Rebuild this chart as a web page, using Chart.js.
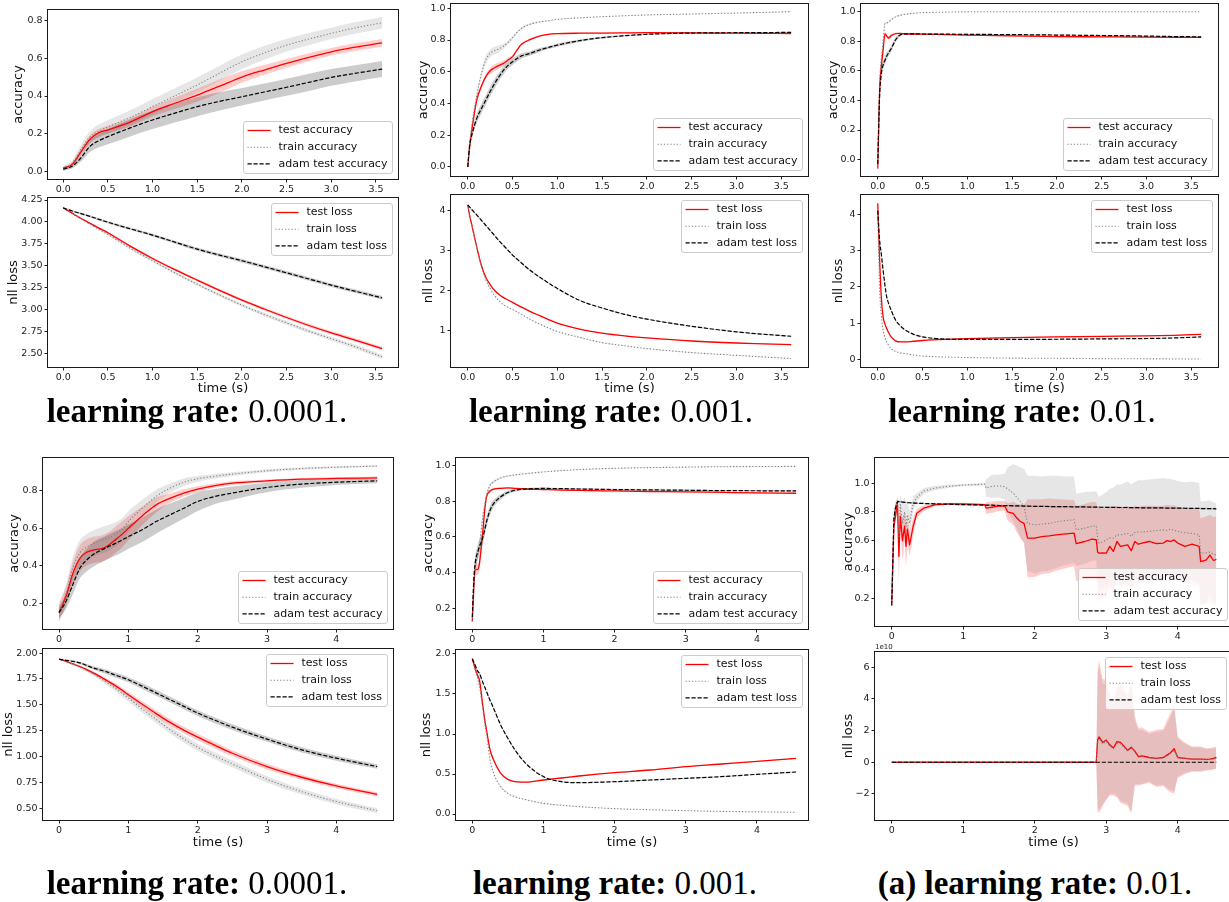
<!DOCTYPE html>
<html>
<head>
<meta charset="utf-8">
<script src="https://cdn.jsdelivr.net/npm/chart.js@4.4.1/dist/chart.umd.min.js"></script>
<style>
  html, body { margin: 0; padding: 0; background: #fff; }
  body { width: 1229px; height: 902px; position: relative; overflow: hidden; }
  canvas { position: absolute; }
  .cap { position: absolute; font-family: "Liberation Serif", serif; font-size: 33px; line-height: 33px; white-space: nowrap; transform: translateX(-50%); color: #000; }
</style>
</head>
<body>
<canvas id="c1"></canvas><canvas id="c2"></canvas>
<canvas id="c3"></canvas><canvas id="c4"></canvas>
<canvas id="c5"></canvas><canvas id="c6"></canvas>
<canvas id="c7"></canvas><canvas id="c8"></canvas>
<canvas id="c9"></canvas><canvas id="c10"></canvas>
<canvas id="c11"></canvas><canvas id="c12"></canvas>

<div class="cap" style="left:197px; top:395px"><b>learning rate:</b> 0.0001.</div>
<div class="cap" style="left:611px; top:395px"><b>learning rate:</b> 0.001.</div>
<div class="cap" style="left:1022px; top:395px"><b>learning rate:</b> 0.01.</div>
<div class="cap" style="left:197px; top:867px"><b>learning rate:</b> 0.0001.</div>
<div class="cap" style="left:615px; top:867px"><b>learning rate:</b> 0.001.</div>
<div class="cap" style="left:1035px; top:867px"><b>(a) learning rate:</b> 0.01.</div>

<script>
// ---- time axes (seconds) ----
const tA = [0, 0.1, 0.2, 0.3, 0.4, 0.5, 0.75, 1.0, 1.25, 1.5, 1.75, 2.0, 2.25, 2.5, 2.75, 3.0, 3.25, 3.57];
const tB = [0, 0.02, 0.05, 0.1, 0.15, 0.2, 0.25, 0.3, 0.35, 0.4, 0.45, 0.5, 0.55, 0.6, 0.7, 0.8, 0.9, 1.0, 1.25, 1.5, 1.75, 2.0, 2.5, 3.0, 3.3, 3.61];
const tC = [0, 0.02, 0.04, 0.06, 0.08, 0.1, 0.12, 0.15, 0.2, 0.25, 0.3, 0.4, 0.5, 0.75, 1.0, 1.5, 2.0, 2.5, 3.0, 3.3, 3.61];
const tD = [0, 0.1, 0.2, 0.3, 0.4, 0.5, 0.6, 0.7, 0.8, 0.9, 1.0, 1.2, 1.4, 1.6, 1.8, 2.0, 2.25, 2.5, 3.0, 3.5, 4.0, 4.59];
const tE = [0, 0.02, 0.04, 0.08, 0.1, 0.15, 0.18, 0.2, 0.25, 0.3, 0.4, 0.5, 0.6, 0.75, 1.0, 1.25, 1.5, 2.0, 2.5, 3.0, 3.5, 4.0, 4.55];
const tF = [0, 0.03, 0.05, 0.08, 0.1, 0.12, 0.15, 0.18, 0.2, 0.22,
  0.25, 0.3, 0.35, 0.45, 0.6, 0.8, 1.0, 1.2, 1.3, 1.32,
  1.4, 1.5, 1.58, 1.62, 1.7, 1.75, 1.8, 1.85, 1.9, 2.0,
  2.1, 2.2, 2.3, 2.4, 2.55, 2.58, 2.7, 2.8, 2.86, 2.88,
  2.9, 2.95, 3.0, 3.05, 3.1, 3.15, 3.2, 3.3, 3.35, 3.4,
  3.45, 3.5, 3.6, 3.7, 3.8, 3.85, 3.9, 3.95, 4.0, 4.1,
  4.2, 4.3, 4.32, 4.4, 4.45, 4.5, 4.54];

// ---- panel A: lr 0.0001 (top) ----
const c1Test = [0.02, 0.04, 0.107, 0.172, 0.207, 0.222, 0.262, 0.318, 0.362, 0.405, 0.452, 0.5, 0.537, 0.572, 0.604, 0.633, 0.656, 0.68];
const c1TestSd = [0.008, 0.01, 0.018, 0.02, 0.02, 0.02, 0.022, 0.025, 0.03, 0.035, 0.035, 0.03, 0.026, 0.023, 0.021, 0.02, 0.02, 0.02];
const c1Train = [0.02, 0.045, 0.12, 0.185, 0.215, 0.237, 0.287, 0.344, 0.401, 0.458, 0.52, 0.58, 0.627, 0.668, 0.7, 0.73, 0.757, 0.786];
const c1TrainSd = [0.008, 0.015, 0.025, 0.03, 0.035, 0.035, 0.038, 0.04, 0.04, 0.04, 0.04, 0.038, 0.036, 0.034, 0.032, 0.03, 0.03, 0.03];
const c1Adam = [0.015, 0.03, 0.075, 0.135, 0.165, 0.186, 0.232, 0.274, 0.31, 0.344, 0.372, 0.396, 0.421, 0.446, 0.472, 0.498, 0.518, 0.542];
const c1AdamSd = [0.008, 0.012, 0.02, 0.03, 0.035, 0.04, 0.045, 0.048, 0.05, 0.05, 0.048, 0.046, 0.045, 0.045, 0.045, 0.044, 0.043, 0.042];

const c2Test = [4.16, 4.1, 4.04, 3.985, 3.93, 3.877, 3.725, 3.584, 3.457, 3.337, 3.22, 3.109, 3.008, 2.911, 2.82, 2.736, 2.66, 2.557];
const c2TestSd = [0.004, 0.006, 0.008, 0.009, 0.01, 0.01, 0.012, 0.013, 0.014, 0.015, 0.015, 0.016, 0.017, 0.018, 0.019, 0.02, 0.02, 0.02];
const c2Train = [4.16, 4.098, 4.035, 3.975, 3.915, 3.858, 3.7, 3.558, 3.42, 3.29, 3.168, 3.052, 2.946, 2.85, 2.756, 2.67, 2.585, 2.462];
const c2TrainSd = [0.004, 0.007, 0.009, 0.01, 0.011, 0.012, 0.014, 0.015, 0.016, 0.017, 0.018, 0.019, 0.02, 0.021, 0.022, 0.023, 0.024, 0.025];
const c2Adam = [4.16, 4.125, 4.095, 4.063, 4.03, 3.997, 3.922, 3.85, 3.77, 3.69, 3.622, 3.558, 3.49, 3.42, 3.35, 3.28, 3.215, 3.135];
const c2AdamSd = [0.004, 0.008, 0.01, 0.012, 0.013, 0.014, 0.015, 0.016, 0.017, 0.018, 0.018, 0.019, 0.02, 0.02, 0.02, 0.02, 0.02, 0.02];

// ---- panel B: lr 0.001 (top) ----
const c3Test = [0.0, 0.12, 0.25, 0.42, 0.505, 0.568, 0.606, 0.625, 0.64, 0.653, 0.674, 0.695, 0.737, 0.773, 0.804, 0.825, 0.836, 0.84, 0.843, 0.844, 0.845, 0.846, 0.845, 0.843, 0.842, 0.841];
const c3TestSd = [0.01, 0.02, 0.02, 0.015, 0.015, 0.015, 0.02, 0.02, 0.02, 0.018, 0.015, 0.01, 0.008, 0.006, 0.005, 0.004, 0.003, 0.003, 0.003, 0.003, 0.003, 0.003, 0.003, 0.003, 0.003, 0.003];
const c3Train = [0.0, 0.14, 0.28, 0.45, 0.58, 0.674, 0.716, 0.733, 0.745, 0.762, 0.785, 0.815, 0.848, 0.874, 0.9, 0.914, 0.922, 0.93, 0.94, 0.947, 0.953, 0.958, 0.964, 0.97, 0.974, 0.979];
const c3TrainSd = [0.01, 0.02, 0.02, 0.02, 0.02, 0.025, 0.025, 0.025, 0.02, 0.015, 0.012, 0.01, 0.008, 0.006, 0.005, 0.004, 0.003, 0.003, 0.002, 0.002, 0.002, 0.002, 0.002, 0.002, 0.002, 0.002];
const c3Adam = [0.0, 0.13, 0.21, 0.305, 0.365, 0.42, 0.475, 0.526, 0.57, 0.61, 0.64, 0.663, 0.683, 0.7, 0.716, 0.737, 0.753, 0.768, 0.796, 0.815, 0.827, 0.836, 0.844, 0.846, 0.847, 0.848];
const c3AdamSd = [0.01, 0.02, 0.025, 0.03, 0.03, 0.03, 0.03, 0.03, 0.025, 0.025, 0.02, 0.02, 0.018, 0.016, 0.014, 0.012, 0.01, 0.01, 0.008, 0.006, 0.005, 0.004, 0.003, 0.003, 0.003, 0.003];

const c4Test = [4.15, 3.9, 3.6, 3.1, 2.65, 2.34, 2.15, 2.0, 1.9, 1.82, 1.76, 1.7, 1.64, 1.58, 1.47, 1.37, 1.27, 1.18, 1.03, 0.93, 0.86, 0.81, 0.73, 0.68, 0.66, 0.64];
const c4TestSd = [0.01, 0.02, 0.02, 0.02, 0.02, 0.015, 0.015, 0.012, 0.012, 0.01, 0.01, 0.01, 0.01, 0.01, 0.008, 0.008, 0.008, 0.008, 0.008, 0.008, 0.008, 0.008, 0.008, 0.008, 0.008, 0.008];
const c4Train = [4.15, 3.9, 3.6, 3.08, 2.62, 2.28, 2.05, 1.87, 1.74, 1.64, 1.58, 1.52, 1.46, 1.4, 1.27, 1.16, 1.06, 0.97, 0.82, 0.69, 0.61, 0.54, 0.44, 0.37, 0.33, 0.29];
const c4TrainSd = [0.01, 0.02, 0.02, 0.02, 0.02, 0.015, 0.015, 0.012, 0.012, 0.01, 0.01, 0.01, 0.01, 0.01, 0.008, 0.008, 0.008, 0.008, 0.008, 0.008, 0.008, 0.008, 0.008, 0.008, 0.008, 0.008];
const c4Adam = [4.15, 4.1, 4.02, 3.9, 3.77, 3.64, 3.51, 3.38, 3.25, 3.13, 3.01, 2.89, 2.79, 2.69, 2.5, 2.34, 2.19, 2.05, 1.75, 1.56, 1.4, 1.28, 1.1, 0.96, 0.9, 0.85];
const c4AdamSd = [0.01, 0.015, 0.02, 0.02, 0.02, 0.02, 0.02, 0.02, 0.02, 0.02, 0.02, 0.02, 0.02, 0.02, 0.02, 0.018, 0.016, 0.015, 0.014, 0.012, 0.012, 0.01, 0.01, 0.01, 0.01, 0.01];

// ---- panel C: lr 0.01 (top) ----
const c5Test = [-0.06, 0.45, 0.63, 0.74, 0.85, 0.835, 0.822, 0.838, 0.852, 0.853, 0.851, 0.849, 0.848, 0.845, 0.842, 0.836, 0.832, 0.83, 0.828, 0.827, 0.826];
const c5TestSd = [0.01, 0.03, 0.03, 0.03, 0.012, 0.012, 0.012, 0.01, 0.006, 0.004, 0.004, 0.003, 0.003, 0.003, 0.003, 0.003, 0.003, 0.003, 0.003, 0.003, 0.003];
const c5Train = [-0.06, 0.5, 0.68, 0.8, 0.92, 0.925, 0.93, 0.945, 0.966, 0.976, 0.982, 0.989, 0.993, 0.997, 0.999, 1.0, 1.0, 1.0, 1.0, 1.0, 1.0];
const c5TrainSd = [0.01, 0.03, 0.03, 0.03, 0.01, 0.008, 0.006, 0.005, 0.004, 0.003, 0.002, 0.002, 0.001, 0.001, 0.001, 0.001, 0.001, 0.001, 0.001, 0.001, 0.001];
const c5Adam = [-0.03, 0.42, 0.58, 0.64, 0.67, 0.7, 0.72, 0.75, 0.81, 0.842, 0.849, 0.85, 0.849, 0.848, 0.847, 0.845, 0.842, 0.839, 0.835, 0.832, 0.83];
const c5AdamSd = [0.01, 0.03, 0.03, 0.025, 0.025, 0.025, 0.02, 0.02, 0.015, 0.008, 0.005, 0.004, 0.003, 0.003, 0.003, 0.003, 0.003, 0.003, 0.003, 0.003, 0.003];

const c6Test = [4.3, 2.8, 1.7, 1.17, 0.98, 0.85, 0.74, 0.62, 0.51, 0.48, 0.48, 0.5, 0.52, 0.55, 0.57, 0.6, 0.62, 0.635, 0.645, 0.66, 0.69];
const c6TestSd = [0.05, 0.1, 0.08, 0.05, 0.03, 0.02, 0.02, 0.015, 0.01, 0.01, 0.01, 0.01, 0.01, 0.01, 0.01, 0.01, 0.01, 0.01, 0.01, 0.01, 0.01];
const c6Train = [4.1, 2.0, 1.2, 0.8, 0.6, 0.48, 0.4, 0.29, 0.22, 0.18, 0.16, 0.12, 0.09, 0.065, 0.05, 0.035, 0.03, 0.02, 0.015, 0.012, 0.01];
const c6TrainSd = [0.05, 0.1, 0.06, 0.04, 0.03, 0.02, 0.015, 0.01, 0.008, 0.006, 0.005, 0.004, 0.003, 0.002, 0.002, 0.002, 0.002, 0.002, 0.002, 0.002, 0.002];
const c6Adam = [4.1, 3.3, 2.9, 2.45, 2.05, 1.72, 1.55, 1.35, 1.08, 0.93, 0.82, 0.69, 0.62, 0.56, 0.55, 0.55, 0.555, 0.565, 0.575, 0.59, 0.62];
const c6AdamSd = [0.05, 0.08, 0.08, 0.06, 0.05, 0.04, 0.03, 0.03, 0.02, 0.015, 0.012, 0.01, 0.008, 0.008, 0.008, 0.008, 0.008, 0.008, 0.008, 0.008, 0.008];

// ---- panel D: lr 0.0001 (bottom) ----
const c7Test = [0.152, 0.236, 0.36, 0.44, 0.472, 0.485, 0.49, 0.506, 0.535, 0.565, 0.6, 0.666, 0.725, 0.76, 0.788, 0.809, 0.828, 0.841, 0.853, 0.862, 0.866, 0.869];
const c7TestSd = [0.05, 0.05, 0.06, 0.07, 0.07, 0.07, 0.07, 0.07, 0.07, 0.07, 0.065, 0.05, 0.04, 0.025, 0.02, 0.015, 0.012, 0.01, 0.008, 0.007, 0.007, 0.007];
const c7Train = [0.15, 0.25, 0.39, 0.467, 0.5, 0.52, 0.535, 0.547, 0.565, 0.59, 0.636, 0.707, 0.77, 0.814, 0.846, 0.864, 0.878, 0.889, 0.907, 0.919, 0.926, 0.932];
const c7TrainSd = [0.04, 0.05, 0.06, 0.07, 0.07, 0.07, 0.07, 0.07, 0.065, 0.06, 0.055, 0.045, 0.035, 0.025, 0.02, 0.015, 0.012, 0.01, 0.008, 0.006, 0.005, 0.005];
const c7Adam = [0.15, 0.21, 0.3, 0.387, 0.431, 0.462, 0.482, 0.5, 0.517, 0.535, 0.556, 0.592, 0.636, 0.672, 0.707, 0.743, 0.77, 0.788, 0.818, 0.836, 0.846, 0.853];
const c7AdamSd = [0.03, 0.04, 0.05, 0.055, 0.06, 0.065, 0.065, 0.065, 0.065, 0.065, 0.065, 0.065, 0.065, 0.06, 0.055, 0.05, 0.04, 0.035, 0.025, 0.02, 0.015, 0.012];

const c8Test = [1.94, 1.92, 1.895, 1.87, 1.84, 1.806, 1.77, 1.73, 1.69, 1.645, 1.597, 1.505, 1.415, 1.33, 1.255, 1.187, 1.108, 1.032, 0.903, 0.8, 0.716, 0.635];
const c8TestSd = [0.005, 0.006, 0.008, 0.01, 0.012, 0.015, 0.018, 0.02, 0.022, 0.025, 0.027, 0.03, 0.032, 0.033, 0.033, 0.033, 0.032, 0.03, 0.028, 0.025, 0.022, 0.02];
const c8Train = [1.94, 1.92, 1.893, 1.866, 1.833, 1.797, 1.755, 1.71, 1.665, 1.615, 1.565, 1.46, 1.36, 1.26, 1.17, 1.09, 1.005, 0.929, 0.78, 0.661, 0.565, 0.477];
const c8TrainSd = [0.005, 0.008, 0.01, 0.013, 0.016, 0.02, 0.023, 0.026, 0.028, 0.03, 0.032, 0.034, 0.035, 0.035, 0.035, 0.034, 0.033, 0.032, 0.03, 0.028, 0.026, 0.025];
const c8Adam = [1.94, 1.93, 1.92, 1.905, 1.88, 1.855, 1.835, 1.815, 1.79, 1.767, 1.742, 1.68, 1.615, 1.55, 1.485, 1.42, 1.35, 1.284, 1.168, 1.065, 0.984, 0.903];
const c8AdamSd = [0.005, 0.008, 0.01, 0.012, 0.015, 0.017, 0.02, 0.022, 0.023, 0.025, 0.025, 0.027, 0.028, 0.028, 0.028, 0.028, 0.028, 0.027, 0.026, 0.025, 0.024, 0.022];

// ---- panel E: lr 0.001 (bottom) ----
const c9Test = [0.125, 0.3, 0.415, 0.418, 0.45, 0.64, 0.77, 0.825, 0.858, 0.868, 0.873, 0.875, 0.872, 0.869, 0.866, 0.863, 0.861, 0.858, 0.855, 0.853, 0.85, 0.847, 0.845];
const c9TestSd = [0.01, 0.03, 0.03, 0.03, 0.03, 0.03, 0.02, 0.015, 0.008, 0.006, 0.005, 0.004, 0.004, 0.003, 0.003, 0.003, 0.003, 0.003, 0.003, 0.003, 0.003, 0.003, 0.003];
const c9Train = [0.125, 0.3, 0.42, 0.5, 0.55, 0.72, 0.79, 0.834, 0.89, 0.909, 0.931, 0.942, 0.948, 0.955, 0.965, 0.972, 0.978, 0.985, 0.989, 0.992, 0.994, 0.995, 0.996];
const c9TrainSd = [0.01, 0.03, 0.03, 0.03, 0.03, 0.03, 0.02, 0.015, 0.01, 0.008, 0.005, 0.004, 0.003, 0.003, 0.002, 0.002, 0.002, 0.002, 0.002, 0.002, 0.002, 0.002, 0.002];
const c9Adam = [0.15, 0.35, 0.45, 0.52, 0.545, 0.6, 0.65, 0.685, 0.75, 0.787, 0.825, 0.849, 0.862, 0.869, 0.872, 0.871, 0.869, 0.866, 0.864, 0.862, 0.86, 0.859, 0.858];
const c9AdamSd = [0.02, 0.04, 0.04, 0.04, 0.04, 0.035, 0.035, 0.03, 0.025, 0.02, 0.015, 0.01, 0.008, 0.006, 0.005, 0.004, 0.004, 0.004, 0.004, 0.004, 0.004, 0.004, 0.004];

const c10Test = [1.94, 1.88, 1.82, 1.72, 1.675, 1.34, 1.15, 1.05, 0.8, 0.675, 0.508, 0.433, 0.404, 0.398, 0.425, 0.45, 0.475, 0.517, 0.55, 0.592, 0.625, 0.658, 0.696];
const c10TestSd = [0.005, 0.01, 0.015, 0.02, 0.02, 0.02, 0.02, 0.02, 0.015, 0.012, 0.01, 0.008, 0.006, 0.005, 0.005, 0.005, 0.005, 0.005, 0.005, 0.005, 0.005, 0.005, 0.005];
const c10Train = [1.94, 1.88, 1.8, 1.68, 1.6, 1.3, 1.1, 1.0, 0.675, 0.508, 0.342, 0.258, 0.215, 0.18, 0.133, 0.11, 0.092, 0.067, 0.053, 0.042, 0.033, 0.027, 0.021];
const c10TrainSd = [0.005, 0.01, 0.015, 0.02, 0.02, 0.02, 0.02, 0.02, 0.015, 0.012, 0.01, 0.008, 0.006, 0.005, 0.004, 0.003, 0.003, 0.003, 0.003, 0.003, 0.003, 0.003, 0.003];
const c10Adam = [1.94, 1.9, 1.86, 1.78, 1.758, 1.64, 1.575, 1.53, 1.42, 1.32, 1.11, 0.946, 0.8, 0.633, 0.467, 0.404, 0.392, 0.404, 0.425, 0.446, 0.467, 0.496, 0.525];
const c10AdamSd = [0.005, 0.01, 0.012, 0.015, 0.015, 0.015, 0.015, 0.015, 0.015, 0.015, 0.012, 0.01, 0.01, 0.008, 0.006, 0.005, 0.005, 0.005, 0.005, 0.005, 0.005, 0.005, 0.005];

// ---- panel F: lr 0.01 (bottom) ----
const c11Test = [0.165, 0.70, 0.76, 0.86, 0.49, 0.77, 0.60, 0.70, 0.56, 0.68,
  0.57, 0.70, 0.79, 0.826, 0.848, 0.855, 0.855, 0.852, 0.85, 0.826,
  0.832, 0.84, 0.842, 0.80, 0.79, 0.757, 0.733, 0.72, 0.617, 0.617,
  0.628, 0.633, 0.64, 0.645, 0.652, 0.58, 0.594, 0.61, 0.606, 0.52,
  0.513, 0.515, 0.513, 0.56, 0.525, 0.594, 0.56, 0.571, 0.53, 0.594,
  0.575, 0.583, 0.594, 0.58, 0.583, 0.60, 0.594, 0.605, 0.583, 0.56,
  0.575, 0.56, 0.455, 0.467, 0.50, 0.462, 0.47];
const c11TestSd = [0.03, 0.05, 0.05, 0.03, 0.2, 0.06, 0.15, 0.1, 0.15, 0.1,
  0.08, 0.06, 0.03, 0.02, 0.01, 0.008, 0.008, 0.008, 0.008, 0.04,
  0.04, 0.035, 0.035, 0.06, 0.08, 0.1, 0.12, 0.13, 0.27, 0.27,
  0.26, 0.26, 0.25, 0.24, 0.23, 0.26, 0.26, 0.26, 0.26, 0.3,
  0.32, 0.31, 0.31, 0.28, 0.3, 0.25, 0.27, 0.27, 0.29, 0.25,
  0.26, 0.26, 0.25, 0.26, 0.26, 0.25, 0.25, 0.24, 0.25, 0.26,
  0.25, 0.26, 0.3, 0.3, 0.28, 0.3, 0.3];
const c11Train = [0.15, 0.75, 0.82, 0.88, 0.62, 0.85, 0.72, 0.80, 0.70, 0.78,
  0.72, 0.86, 0.90, 0.945, 0.965, 0.978, 0.986, 0.99, 0.993, 0.965,
  0.977, 0.98, 0.975, 0.96, 0.93, 0.90, 0.87, 0.838, 0.72, 0.71,
  0.715, 0.72, 0.73, 0.738, 0.745, 0.675, 0.687, 0.70, 0.703, 0.62,
  0.583, 0.59, 0.606, 0.62, 0.617, 0.64, 0.64, 0.65, 0.63, 0.657,
  0.66, 0.66, 0.664, 0.67, 0.675, 0.67, 0.68, 0.672, 0.664, 0.655,
  0.65, 0.64, 0.513, 0.515, 0.52, 0.505, 0.50];
const c11TrainSd = [0.03, 0.05, 0.05, 0.03, 0.2, 0.06, 0.15, 0.1, 0.15, 0.1,
  0.08, 0.05, 0.03, 0.02, 0.015, 0.01, 0.008, 0.008, 0.008, 0.06,
  0.08, 0.08, 0.09, 0.15, 0.2, 0.22, 0.24, 0.26, 0.33, 0.34,
  0.33, 0.33, 0.32, 0.31, 0.3, 0.25, 0.25, 0.24, 0.24, 0.3,
  0.32, 0.33, 0.33, 0.34, 0.35, 0.35, 0.35, 0.36, 0.36, 0.35,
  0.36, 0.36, 0.36, 0.36, 0.36, 0.36, 0.35, 0.35, 0.35, 0.35,
  0.36, 0.36, 0.36, 0.36, 0.36, 0.36, 0.36];
const c11Adam = [0.15, 0.75, 0.82, 0.87, 0.872, 0.87, 0.868, 0.866, 0.865, 0.864,
  0.863, 0.861, 0.86, 0.858, 0.856, 0.853, 0.85, 0.848, 0.847, 0.847,
  0.846, 0.844, 0.843, 0.843, 0.842, 0.841, 0.841, 0.84, 0.84, 0.838,
  0.838, 0.837, 0.836, 0.836, 0.835, 0.835, 0.834, 0.833, 0.833, 0.833,
  0.832, 0.832, 0.831, 0.831, 0.831, 0.83, 0.83, 0.83, 0.829, 0.829,
  0.829, 0.828, 0.828, 0.827, 0.827, 0.826, 0.826, 0.826, 0.826, 0.825,
  0.824, 0.824, 0.823, 0.823, 0.822, 0.822, 0.821];
const c11AdamSd = [0.03, 0.05, 0.03, 0.01, 0.008, 0.006, 0.005, 0.005, 0.005, 0.005,
  0.005, 0.005, 0.005, 0.005, 0.005, 0.005, 0.005, 0.005, 0.005, 0.005,
  0.005, 0.005, 0.005, 0.005, 0.005, 0.005, 0.005, 0.005, 0.005, 0.005,
  0.005, 0.005, 0.005, 0.005, 0.005, 0.005, 0.005, 0.005, 0.005, 0.005,
  0.005, 0.005, 0.005, 0.005, 0.005, 0.005, 0.005, 0.005, 0.005, 0.005,
  0.005, 0.005, 0.005, 0.005, 0.005, 0.005, 0.005, 0.005, 0.005, 0.005,
  0.005, 0.005, 0.005, 0.005, 0.005, 0.005, 0.005];

// nll loss in units of 1e10
const c12Test = [0, 0, 0, 0, 0, 0, 0, 0, 0, 0,
  0, 0, 0, 0, 0, 0, 0, 0, 0, 0,
  0, 0, 0, 0, 0, 0, 0, 0, 0, 0,
  0, 0, 0, 0, 0, 0, 0, 0, 0, 1.4,
  1.6, 1.25, 1.4, 1.1, 0.9, 1.3, 1.25, 0.75, 0.95, 0.7,
  0.35, 0.4, 0.3, 0.25, 0.3, 0.45, 0.6, 0.85, 0.3, 0.25,
  0.2, 0.2, 0.2, 0.18, 0.2, 0.25, 0.3];
const c12TestSd = [0, 0, 0, 0, 0, 0, 0, 0, 0, 0,
  0, 0, 0, 0, 0, 0, 0, 0, 0, 0,
  0, 0, 0, 0, 0, 0, 0, 0, 0, 0,
  0, 0, 0, 0, 0, 0, 0, 0, 0, 4.5,
  4.8, 4.0, 3.8, 3.2, 3.0, 3.5, 3.8, 3.5, 4.2, 2.2,
  1.8, 1.8, 1.6, 1.8, 1.8, 2.2, 2.5, 2.8, 1.3, 1.0,
  0.8, 0.8, 0.8, 0.7, 0.7, 0.7, 0.7];
const c12Train = [0, 0, 0, 0, 0, 0, 0, 0, 0, 0,
  0, 0, 0, 0, 0, 0, 0, 0, 0, 0,
  0, 0, 0, 0, 0, 0, 0, 0, 0, 0,
  0, 0, 0, 0, 0, 0, 0, 0, 0, 1.3,
  1.5, 1.15, 1.3, 1.0, 0.85, 1.2, 1.15, 0.7, 0.9, 0.65,
  0.3, 0.35, 0.28, 0.22, 0.28, 0.4, 0.55, 0.75, 0.3, 0.25,
  0.2, 0.18, 0.18, 0.16, 0.18, 0.2, 0.25];
const c12TrainSd = [0, 0, 0, 0, 0, 0, 0, 0, 0, 0,
  0, 0, 0, 0, 0, 0, 0, 0, 0, 0,
  0, 0, 0, 0, 0, 0, 0, 0, 0, 0,
  0, 0, 0, 0, 0, 0, 0, 0, 0, 4.2,
  4.5, 3.8, 3.6, 3.0, 2.8, 3.3, 3.6, 3.3, 4.0, 2.0,
  1.7, 1.7, 1.5, 1.7, 1.7, 2.0, 2.3, 2.6, 1.2, 0.9,
  0.75, 0.75, 0.75, 0.65, 0.65, 0.65, 0.65];
const c12Adam = [0, 0, 0, 0, 0, 0, 0, 0, 0, 0,
  0, 0, 0, 0, 0, 0, 0, 0, 0, 0,
  0, 0, 0, 0, 0, 0, 0, 0, 0, 0,
  0, 0, 0, 0, 0, 0, 0, 0, 0, 0,
  0, 0, 0, 0, 0, 0, 0, 0, 0, 0,
  0, 0, 0, 0, 0, 0, 0, 0, 0, 0,
  0, 0, 0, 0, 0, 0, 0];
const c12AdamSd = c12Adam;

// ---- tick values ----
const topTimeTicks = [0, 0.5, 1, 1.5, 2, 2.5, 3, 3.5];
const bottomTimeTicks = [0, 1, 2, 3, 4];
const accTicks1 = [0, 0.2, 0.4, 0.6, 0.8];
const accTicks2 = [0, 0.2, 0.4, 0.6, 0.8, 1.0];
const accTicks3 = [0.2, 0.4, 0.6, 0.8];
const accTicks4 = [0.2, 0.4, 0.6, 0.8, 1.0];
const lossTicks1 = [2.5, 2.75, 3, 3.25, 3.5, 3.75, 4, 4.25];
const lossTicks2 = [1, 2, 3, 4];
const lossTicks3 = [0, 1, 2, 3, 4];
const lossTicks4 = [0.5, 0.75, 1, 1.25, 1.5, 1.75, 2];
const lossTicks5 = [0, 0.5, 1, 1.5, 2];
const lossTicks6 = [-2, 0, 2, 4, 6];

const TEST = { line: '#ff0000', band: 'rgba(255,0,0,0.2)', width: 1.3, dash: [] };
const TRAIN = { line: '#808080', band: 'rgba(128,128,128,0.2)', width: 1.1, dash: [1.2, 2] };
const ADAM = { line: '#000000', band: 'rgba(0,0,0,0.2)', width: 1.2, dash: [4.2, 1.8] };

Chart.defaults.font.family = '"DejaVu Sans", sans-serif';
Chart.defaults.color = '#111';

function buildSets(t, list, smooth) {
  const sets = [];
  list.forEach(function (s, k) {
    sets.push({ data: t.map(function (x, i) { return { x: x, y: s.mean[i] - s.sd[i] }; }),
      borderColor: 'rgba(0,0,0,0)', borderWidth: 0, pointRadius: 0, fill: false, order: 12 - k });
    sets.push({ data: t.map(function (x, i) { return { x: x, y: s.mean[i] + s.sd[i] }; }),
      borderColor: 'rgba(0,0,0,0)', borderWidth: 0, pointRadius: 0, fill: '-1',
      backgroundColor: s.style.band, order: 12 - k });
  });
  list.forEach(function (s, k) {
    sets.push({ legendLabel: s.label, data: t.map(function (x, i) { return { x: x, y: s.mean[i] }; }),
      borderColor: s.style.line, borderWidth: s.style.width, borderDash: s.style.dash,
      borderJoinStyle: 'round', pointRadius: 0, fill: false, order: 3 - k });
  });
  sets.forEach(function (d) {
    if (smooth) { d.cubicInterpolationMode = 'monotone'; } else { d.tension = 0; }
  });
  return sets;
}

function fmt(v, dec) {
  return v.toFixed(dec).replace('-', '\u2212');
}

const frame = {
  id: 'frame',
  afterDatasetsDraw(chart) {
    const ctx = chart.ctx, a = chart.chartArea;
    ctx.save();
    ctx.strokeStyle = '#1a1a1a';
    ctx.lineWidth = 1;
    ctx.strokeRect(Math.round(a.left) - 0.5, Math.round(a.top) - 0.5,
      Math.round(a.right - a.left) + 1, Math.round(a.bottom - a.top) + 1);
    ctx.restore();
  }
};

const legendBox = {
  id: 'legendBox',
  afterDraw(chart, args, opts) {
    const ctx = chart.ctx, a = chart.chartArea;
    const items = chart.data.datasets.filter(function (d) { return d.legendLabel; });
    ctx.save();
    ctx.font = '11px "DejaVu Sans"';
    let tw = 0;
    items.forEach(function (d) { tw = Math.max(tw, ctx.measureText(d.legendLabel).width); });
    const w = Math.round(35 + tw + 5), h = 52;
    const x = Math.round(a.right - 6 - w) + 0.5;
    const y = (opts.corner === 'upper' ? Math.round(a.top + 5) : Math.round(a.bottom - 6 - h)) + 0.5;
    ctx.beginPath();
    ctx.roundRect(x, y, w, h, 2.5);
    ctx.fillStyle = 'rgba(255,255,255,0.8)';
    ctx.fill();
    ctx.strokeStyle = '#cccccc';
    ctx.lineWidth = 1;
    ctx.stroke();
    items.forEach(function (d, i) {
      const cy = y + 9 + i * 16.7;
      ctx.beginPath();
      ctx.setLineDash(d.borderDash || []);
      ctx.strokeStyle = d.borderColor;
      ctx.lineWidth = d.borderWidth;
      ctx.moveTo(x + 4, cy);
      ctx.lineTo(x + 27, cy);
      ctx.stroke();
      ctx.setLineDash([]);
      ctx.fillStyle = '#111';
      ctx.textBaseline = 'middle';
      ctx.fillText(d.legendLabel, x + 35, cy);
    });
    ctx.restore();
  }
};

const offsetText = {
  id: 'offsetText',
  afterDraw(chart, args, opts) {
    if (!opts.text) return;
    const ctx = chart.ctx, a = chart.chartArea;
    ctx.save();
    ctx.font = '7px "DejaVu Sans"';
    ctx.fillStyle = '#222';
    ctx.textBaseline = 'bottom';
    ctx.fillText(opts.text, a.left, a.top - 1);
    ctx.restore();
  }
};

function drawChart(id, cfg) {
  const canvas = document.getElementById(id);
  const L = cfg.area[0], T = cfg.area[1], R = cfg.area[2], B = cfg.area[3];
  const left = cfg.col, top = T - 8;
  const right = R + 3;
  const bottom = B + cfg.xh;
  canvas.style.left = left + 'px';
  canvas.style.top = top + 'px';
  canvas.width = right - left;
  canvas.height = bottom - top;
  const tickGrid = { display: true, drawOnChartArea: false, drawTicks: true, tickLength: 3.5, color: '#222', lineWidth: 1 };
  new Chart(canvas, {
    type: 'line',
    data: { datasets: cfg.sets },
    options: {
      responsive: false,
      animation: false,
      devicePixelRatio: 1,
      layout: { padding: { top: 8, right: right - R, left: 0, bottom: 0 } },
      plugins: {
        legend: { display: false },
        tooltip: { enabled: false },
        legendBox: { corner: cfg.corner },
        offsetText: { text: cfg.offset || '' }
      },
      scales: {
        x: {
          type: 'linear', min: cfg.xr[0], max: cfg.xr[1],
          afterBuildTicks: function (s) { s.ticks = cfg.xt.map(function (v) { return { value: v }; }); },
          afterFit: function (s) { s.height = cfg.xh; },
          grid: tickGrid,
          border: { display: false },
          ticks: { font: { size: 9.5 }, color: '#222', padding: 1, maxRotation: 0,
            callback: function (v) { return fmt(v, cfg.xd); } },
          title: cfg.xlabel ? { display: true, text: cfg.xlabel, color: '#111', font: { size: 13 }, padding: { top: 0, bottom: 2 } } : { display: false }
        },
        y: {
          type: 'linear', min: cfg.yr[0], max: cfg.yr[1],
          afterBuildTicks: function (s) { s.ticks = cfg.yt.map(function (v) { return { value: v }; }); },
          afterFit: function (s) { s.width = L - left; },
          grid: tickGrid,
          border: { display: false },
          ticks: { font: { size: 9.5 }, color: '#222', padding: 2,
            callback: function (v) { return fmt(v, cfg.yd); } },
          title: { display: true, text: cfg.ylabel, color: '#111', font: { size: 13 }, padding: { top: cfg.yp, bottom: 0 } }
        }
      }
    },
    plugins: [frame, legendBox, offsetText]
  });
}

function accSeries(test, testSd, train, trainSd, adam, adamSd) {
  return [
    { label: 'test accuracy', mean: test, sd: testSd, style: TEST },
    { label: 'train accuracy', mean: train, sd: trainSd, style: TRAIN },
    { label: 'adam test accuracy', mean: adam, sd: adamSd, style: ADAM }
  ];
}
function lossSeries(test, testSd, train, trainSd, adam, adamSd) {
  return [
    { label: 'test loss', mean: test, sd: testSd, style: TEST },
    { label: 'train loss', mean: train, sd: trainSd, style: TRAIN },
    { label: 'adam test loss', mean: adam, sd: adamSd, style: ADAM }
  ];
}

// top row
drawChart('c1', { col: 0, area: [48, 10, 398, 179], xh: 14, xr: [-0.17, 3.747], yr: [-0.037, 0.853],
  xt: topTimeTicks, yt: accTicks1, xd: 1, yd: 1, ylabel: 'accuracy', yp: 11, corner: 'lower',
  sets: buildSets(tA, accSeries(c1Test, c1TestSd, c1Train, c1TrainSd, c1Adam, c1AdamSd), true) });
drawChart('c2', { col: 0, area: [48, 198, 398, 367], xh: 31, xr: [-0.17, 3.747], yr: [2.347, 4.273],
  xt: topTimeTicks, yt: lossTicks1, xd: 1, yd: 2, ylabel: 'nll loss', yp: 5.5, xlabel: 'time (s)', corner: 'upper',
  sets: buildSets(tA, lossSeries(c2Test, c2TestSd, c2Train, c2TrainSd, c2Adam, c2AdamSd), true) });

drawChart('c3', { col: 410, area: [451, 4, 808, 176], xh: 14, xr: [-0.187, 3.798], yr: [-0.057, 1.027],
  xt: topTimeTicks, yt: accTicks2, xd: 1, yd: 1, ylabel: 'accuracy', yp: 5.5, corner: 'lower',
  sets: buildSets(tB, accSeries(c3Test, c3TestSd, c3Train, c3TrainSd, c3Adam, c3AdamSd), true) });
drawChart('c4', { col: 410, area: [451, 195, 808, 367], xh: 31, xr: [-0.187, 3.798], yr: [0.077, 4.4],
  xt: topTimeTicks, yt: lossTicks2, xd: 1, yd: 0, ylabel: 'nll loss', yp: 10.5, xlabel: 'time (s)', corner: 'upper',
  sets: buildSets(tB, lossSeries(c4Test, c4TestSd, c4Train, c4TrainSd, c4Adam, c4AdamSd), true) });

drawChart('c5', { col: 820, area: [861, 4, 1218, 176], xh: 14, xr: [-0.187, 3.798], yr: [-0.111, 1.052],
  xt: topTimeTicks, yt: accTicks2, xd: 1, yd: 1, ylabel: 'accuracy', yp: 5.5, corner: 'lower',
  sets: buildSets(tC, accSeries(c5Test, c5TestSd, c5Train, c5TrainSd, c5Adam, c5AdamSd), true) });
drawChart('c6', { col: 820, area: [861, 195, 1218, 367], xh: 31, xr: [-0.187, 3.798], yr: [-0.21, 4.53],
  xt: topTimeTicks, yt: lossTicks3, xd: 1, yd: 0, ylabel: 'nll loss', yp: 10.5, xlabel: 'time (s)', corner: 'upper',
  sets: buildSets(tC, lossSeries(c6Test, c6TestSd, c6Train, c6TrainSd, c6Adam, c6AdamSd), true) });

// bottom row
drawChart('c7', { col: 0, area: [43, 458, 393, 629], xh: 14, xr: [-0.231, 4.817], yr: [0.063, 0.975],
  xt: bottomTimeTicks, yt: accTicks3, xd: 0, yd: 1, ylabel: 'accuracy', yp: 7.2, corner: 'lower',
  sets: buildSets(tD, accSeries(c7Test, c7TestSd, c7Train, c7TrainSd, c7Adam, c7AdamSd), true) });
drawChart('c8', { col: 0, area: [43, 649, 393, 820], xh: 32, xr: [-0.231, 4.817], yr: [0.387, 2.039],
  xt: bottomTimeTicks, yt: lossTicks4, xd: 0, yd: 2, ylabel: 'nll loss', yp: 0.5, xlabel: 'time (s)', corner: 'upper',
  sets: buildSets(tD, lossSeries(c8Test, c8TestSd, c8Train, c8TrainSd, c8Adam, c8AdamSd), true) });

drawChart('c9', { col: 410, area: [456, 458, 808, 629], xh: 14, xr: [-0.229, 4.717], yr: [0.083, 1.043],
  xt: bottomTimeTicks, yt: accTicks4, xd: 0, yd: 1, ylabel: 'accuracy', yp: 10.5, corner: 'lower',
  sets: buildSets(tE, accSeries(c9Test, c9TestSd, c9Train, c9TrainSd, c9Adam, c9AdamSd), true) });
drawChart('c10', { col: 410, area: [456, 650, 808, 820], xh: 32, xr: [-0.229, 4.717], yr: [-0.075, 2.05],
  xt: bottomTimeTicks, yt: lossTicks5, xd: 0, yd: 1, ylabel: 'nll loss', yp: 8.9, xlabel: 'time (s)', corner: 'upper',
  sets: buildSets(tE, lossSeries(c10Test, c10TestSd, c10Train, c10TrainSd, c10Adam, c10AdamSd), true) });

drawChart('c11', { col: 820, area: [875, 458, 1233, 626], xh: 14, xr: [-0.234, 4.773], yr: [0.007, 1.174],
  xt: bottomTimeTicks, yt: accTicks4, xd: 0, yd: 1, ylabel: 'accuracy', yp: 20.5, corner: 'lower',
  sets: buildSets(tF, accSeries(c11Test, c11TestSd, c11Train, c11TrainSd, c11Adam, c11AdamSd), false) });
drawChart('c12', { col: 820, area: [875, 652, 1232, 820], xh: 32, xr: [-0.234, 4.759], yr: [-3.64, 6.95],
  xt: bottomTimeTicks, yt: lossTicks6, xd: 0, yd: 0, ylabel: 'nll loss', yp: 20.5, xlabel: 'time (s)', corner: 'upper', offset: '1e10',
  sets: buildSets(tF, lossSeries(c12Test, c12TestSd, c12Train, c12TrainSd, c12Adam, c12AdamSd), false) });
</script>
</body>
</html>
